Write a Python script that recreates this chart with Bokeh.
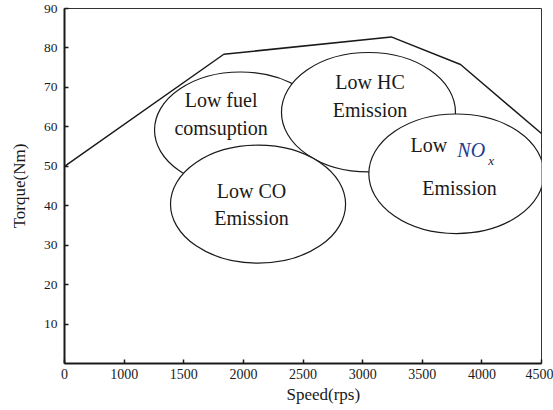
from bokeh.plotting import figure
from bokeh.models import FixedTicker, Range1d, Title
from bokeh.core.properties import value
from bokeh.embed import file_html
from bokeh.resources import INLINE

# Boundary curve (speed positions follow the chart's evenly spaced tick labels)
curve_x = [500, 1836, 3240, 3821, 4500]
curve_y = [50, 78.4, 82.8, 75.8, 58.3]

# Regions (ellipses): centre, width, height in axis units
region_names = ["fuel", "HC", "CO", "NOx"]
region_x = [1976, 3049, 2123, 3786]
region_y = [59.2, 63.7, 40.4, 48.1]
region_w = [1442, 1459, 1468, 1468]
region_h = [29.4, 30.3, 29.9, 30.3]

# Region texts
text_x = [1813, 3062, 2068, 3812]
text_y = [63.2, 67.8, 40.3, 44.6]
text_labels = ["Low fuel\ncomsuption", "Low HC\nEmission", "Low CO\nEmission", "Emission"]
nox_low = ("Low", 3555, 55.3)
nox_no = ("NO", 3911, 54.1)
nox_sub = ("x", 4077, 51.5)

# Axis ticks: the chart's speed labels are evenly spaced, with "0" at the origin
x_ticks = [500, 1000, 1500, 2000, 2500, 3000, 3500, 4000, 4500]
x_tick_labels = {500: "0"}
y_ticks = [10, 20, 30, 40, 50, 60, 70, 80, 90]

FONT = "Liberation Serif"
INK = "#1a1a1a"

p = figure(width=553, height=410, output_backend="svg", toolbar_location=None,
           x_range=Range1d(500, 4500), y_range=Range1d(0, 90),
           min_border_left=64, min_border_right=12, min_border_top=8, min_border_bottom=47)
p.background_fill_color = "white"
p.border_fill_color = "white"
p.outline_line_color = "#333333"
p.outline_line_width = 1
p.xgrid.visible = False
p.ygrid.visible = False

p.xaxis.ticker = FixedTicker(ticks=x_ticks)
p.xaxis.major_label_overrides = x_tick_labels
p.yaxis.ticker = FixedTicker(ticks=y_ticks)
for ax in (p.xaxis[0], p.yaxis[0]):
    ax.axis_line_width = 2
    ax.axis_line_color = INK
    ax.major_tick_in = 4
    ax.major_tick_out = 0
    ax.major_tick_line_color = INK
    ax.major_tick_line_width = 1.5
    ax.minor_tick_line_color = None
    ax.major_label_text_font = FONT
    ax.major_label_text_color = INK
p.xaxis.major_label_text_font_size = "14px"
p.yaxis.major_label_text_font_size = "13.5px"
p.xaxis.major_label_standoff = 5
p.yaxis.major_label_standoff = 7

p.yaxis.axis_label = "Torque(Nm)"
p.yaxis.axis_label_text_font = FONT
p.yaxis.axis_label_text_font_style = "normal"
p.yaxis.axis_label_text_font_size = "17px"
p.yaxis.axis_label_text_color = INK
p.yaxis.axis_label_standoff = 12

p.add_layout(Title(text="Speed(rps)", align="left", offset=222, standoff=2,
                   text_font=FONT, text_font_size="17px", text_font_style="normal",
                   text_color=INK), "below")

p.line(curve_x, curve_y, line_color=INK, line_width=1.5)

p.ellipse(x=region_x, y=region_y, width=region_w, height=region_h,
          fill_color="white", line_color=INK, line_width=1.2)

p.text(x=text_x, y=text_y, text=text_labels, text_font=value(FONT),
       text_font_size="20px", text_align="center", text_baseline="middle",
       text_color=INK, text_line_height=1.25)

p.text(x=[nox_low[1]], y=[nox_low[2]], text=[nox_low[0]], text_font=value(FONT),
       text_font_size="20px", text_align="center", text_baseline="middle", text_color=INK)
p.text(x=[nox_no[1]], y=[nox_no[2]], text=[nox_no[0]], text_font=value(FONT),
       text_font_style="italic", text_font_size="20px", text_align="center",
       text_baseline="middle", text_color="#1d3d8c")
p.text(x=[nox_sub[1]], y=[nox_sub[2]], text=[nox_sub[0]], text_font=value(FONT),
       text_font_style="italic", text_font_size="13px", text_align="center",
       text_baseline="middle", text_color="#222244")

open("out.html", "w").write(file_html(p, INLINE))
